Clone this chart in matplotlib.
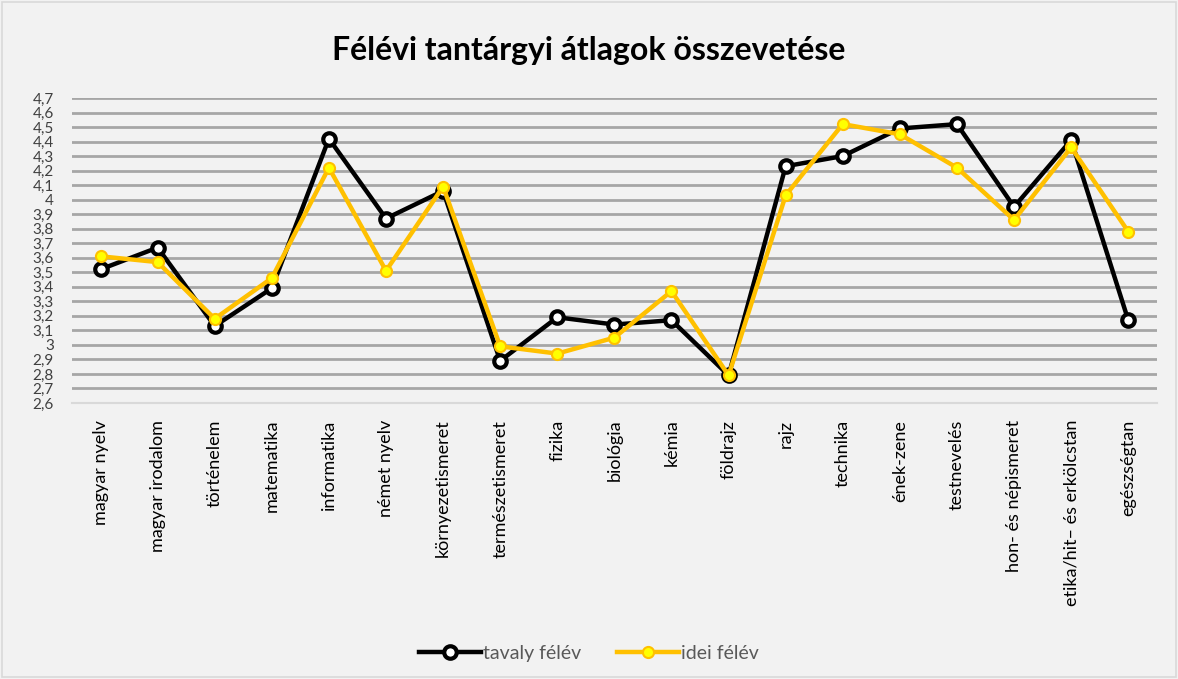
import numpy as np
import matplotlib
matplotlib.use('Agg')
import matplotlib.pyplot as plt
from matplotlib.ticker import FixedLocator, FuncFormatter

plt.rcParams['font.family'] = ['Lato', 'DejaVu Sans']

# subjects and averages
subjects = ['magyar nyelv', 'magyar irodalom', 'történelem', 'matematika', 'informatika',
            'német nyelv', 'környezetismeret', 'természetismeret', 'fizika', 'biológia',
            'kémia', 'földrajz', 'rajz', 'technika', 'ének-zene', 'testnevelés',
            'hon- és népismeret', 'etika/hit– és erkölcstan', 'egészségtan']
tavaly = [3.52, 3.67, 3.13, 3.39, 4.42, 3.87, 4.06, 2.89, 3.19, 3.14,
          3.17, 2.79, 4.23, 4.30, 4.49, 4.52, 3.95, 4.41, 3.17]
idei = [3.61, 3.57, 3.18, 3.46, 4.22, 3.51, 4.09, 2.99, 2.94, 3.05,
        3.37, 2.79, 4.03, 4.52, 4.45, 4.22, 3.86, 4.36, 3.78]
yticks = [round(2.6 + 0.1 * i, 1) for i in range(22)]

bg = '#f2f2f2'
fig = plt.figure(figsize=(11.78, 6.79), dpi=100, facecolor=bg)
ax = fig.add_axes([0.0611, 0.4065, 0.9209, 0.4492], facecolor=bg)

x = np.arange(len(subjects))
ax.plot(x, tavaly, color='black', lw=3.2, marker='o', ms=9, mfc='white',
        mec='black', mew=3, label='tavaly félév', zorder=3)
ax.plot(x, idei, color='#ffc000', lw=3.2, marker='o', ms=8, mfc='#ffff00',
        mec='#ffc000', mew=1.5, label='idei félév', zorder=4)

ax.set_xlim(-0.5, len(subjects) - 0.5)
ax.set_ylim(2.6, 4.7)
ax.yaxis.set_major_locator(FixedLocator(yticks))
ax.yaxis.set_major_formatter(FuncFormatter(lambda v, p: ('%g' % round(v, 1)).replace('.', ',')))
ax.set_xticks(x)
ax.set_xticklabels(subjects, rotation=90, fontsize=13, color='black')
ax.tick_params(axis='y', length=0, pad=13, labelsize=11, labelcolor='#404040')
ax.tick_params(axis='x', length=0, pad=12)
ax.grid(axis='y', color='#a6a6a6', lw=2)
ax.set_axisbelow(True)
for s in ['left', 'right', 'top']:
    ax.spines[s].set_visible(False)
ax.spines['bottom'].set_color('#d9d9d9')
ax.spines['bottom'].set_linewidth(1.5)

fig.text(0.5, 0.925, 'Félévi tantárgyi átlagok összevetése', ha='center', va='center',
         fontsize=23, fontweight='bold', color='black')

leg = fig.legend(loc='center', bbox_to_anchor=(0.5, 0.038), ncol=2, frameon=False,
                 fontsize=14, handlelength=3.2, handletextpad=0.1, columnspacing=1.8)
for t in leg.get_texts():
    t.set_color('#595959')

# thin border around the chart
fig.patches.append(plt.Rectangle((0.002, 0.003), 0.996, 0.994, transform=fig.transFigure,
                                 fill=False, edgecolor='#d9d9d9', lw=1.2))

fig.savefig('out.png', dpi=100, facecolor=bg)
